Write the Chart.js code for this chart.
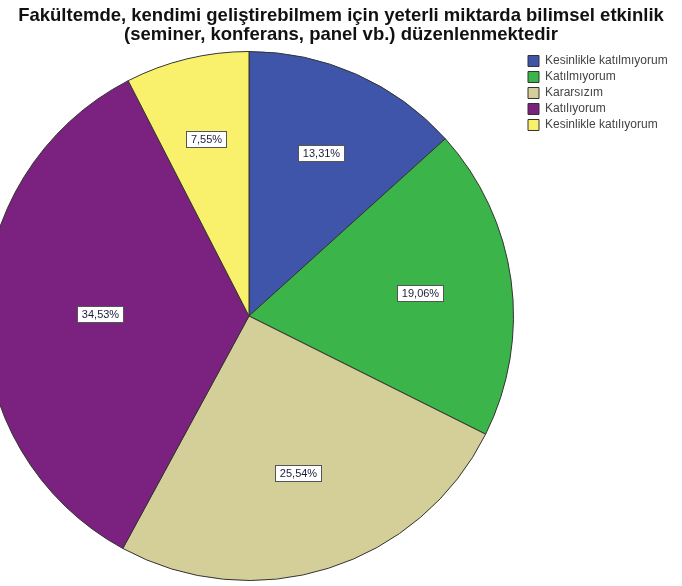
<!DOCTYPE html>
<html>
<head>
<meta charset="utf-8">
<script src="https://cdn.jsdelivr.net/npm/chart.js@4/dist/chart.umd.min.js"></script>
<style>
    html, body { margin: 0; padding: 0; background: #fff; overflow: hidden; }
    #wrap { position: absolute; left: -26px; top: 0; width: 734px; height: 586px; }
</style>
</head>
<body>
<div id="wrap"><canvas id="pieChart"></canvas></div>
<script>

const labels = [
    'Kesinlikle katılmıyorum',
    'Katılmıyorum',
    'Kararsızım',
    'Katılıyorum',
    'Kesinlikle katılıyorum'
];
const percents = [13.31, 19.06, 25.54, 34.53, 7.55];
const colors = ['#3f55a9', '#3bb54a', '#d4cf98', '#7b2180', '#f9f16b'];
const titleLines = [
    'Fakültemde, kendimi geliştirebilmem için yeterli miktarda bilimsel etkinlik',
    '(seminer, konferans, panel vb.) düzenlenmektedir'
];

const LEGEND_WIDTH = 184;

// keep the legend column wide so the pie sits left of centre like the original
const legendWidthPlugin = {
    id: 'legendWidth',
    beforeLayout(chart) {
        const lg = chart.legend;
        if (lg && !lg._fixedWidth) {
            const fit = lg.fit;
            lg.fit = function () {
                fit.call(this);
                this.width = LEGEND_WIDTH;
            };
            lg._fixedWidth = true;
        }
    }
};

// boxed percentage labels near each slice centroid
const sliceLabels = {
    id: 'sliceLabels',
    afterDatasetsDraw(chart) {
        const ctx = chart.ctx;
        const meta = chart.getDatasetMeta(0);
        const values = chart.data.datasets[0].data;
        ctx.save();
        ctx.font = '11px "Liberation Sans", Arial, sans-serif';
        ctx.textAlign = 'center';
        ctx.textBaseline = 'middle';
        meta.data.forEach(function (arc, i) {
            const p = arc.getProps(['x', 'y', 'startAngle', 'endAngle', 'outerRadius'], true);
            const span = p.endAngle - p.startAngle;
            const mid = p.startAngle + span / 2;
            const d = 4 * p.outerRadius * Math.sin(span / 2) / (3 * span) * 1.04;
            const cx = p.x + Math.cos(mid) * d;
            const cy = p.y + Math.sin(mid) * d;
            const text = values[i].toFixed(2).replace('.', ',') + '%';
            const w = Math.round(ctx.measureText(text).width + 9);
            const h = 16;
            const bx = Math.round(cx - w / 2) + 0.5;
            const by = Math.round(cy - h / 2) + 0.5;
            ctx.fillStyle = '#ffffff';
            ctx.fillRect(bx, by, w, h);
            ctx.strokeStyle = '#555555';
            ctx.lineWidth = 1;
            ctx.strokeRect(bx, by, w, h);
            ctx.fillStyle = '#1c1c3a';
            ctx.fillText(text, bx + w / 2, by + h / 2 + 0.5);
        });
        ctx.restore();
    }
};

const data = {
    labels: labels,
    datasets: [{
        data: percents,
        backgroundColor: colors,
        borderColor: '#333333',
        borderWidth: 1
    }]
};

const config = {
    type: 'pie',
    data: data,
    options: {
        responsive: true,
        maintainAspectRatio: false,
        animation: false,
        layout: {
            padding: { top: 0, bottom: 5, left: 0, right: 0 }
        },
        plugins: {
            title: {
                display: true,
                text: titleLines,
                color: '#111111',
                font: { family: '"Liberation Sans", Arial, sans-serif', size: 18.5, weight: 'bold', lineHeight: 1.054 },
                padding: { top: 6, bottom: 6 }
            },
            legend: {
                display: true,
                position: 'right',
                align: 'start',
                fullSize: false,
                labels: {
                    boxWidth: 11,
                    boxHeight: 11,
                    padding: 4,
                    color: '#444444',
                    font: { family: '"Liberation Sans", Arial, sans-serif', size: 12 }
                }
            },
            tooltip: { enabled: false }
        }
    },
    plugins: [legendWidthPlugin, sliceLabels]
};

const myChart = new Chart(
    document.getElementById('pieChart'),
    config
);

</script>
</body>
</html>
